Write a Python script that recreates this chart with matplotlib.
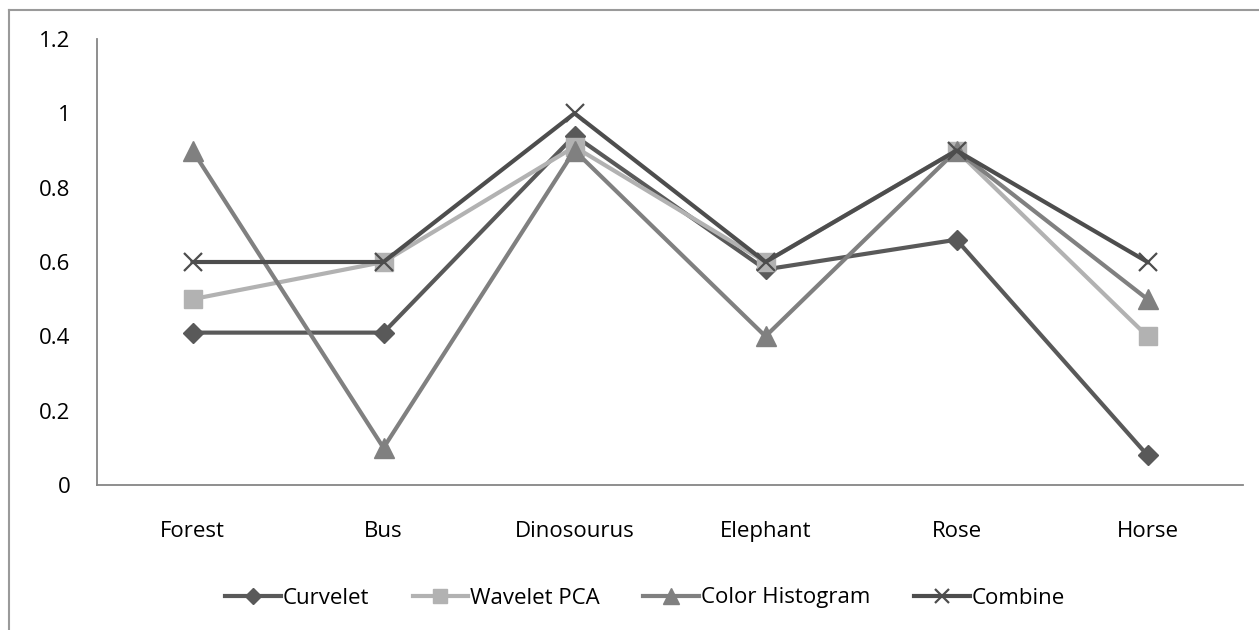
import matplotlib
matplotlib.use("Agg")
import matplotlib.pyplot as plt
from matplotlib.lines import Line2D

categories = ["Forest", "Bus", "Dinosourus", "Elephant", "Rose", "Horse"]
curvelet = [0.41, 0.41, 0.94, 0.58, 0.66, 0.08]
wavelet_pca = [0.50, 0.60, 0.91, 0.60, 0.90, 0.40]
color_hist = [0.90, 0.10, 0.90, 0.40, 0.90, 0.50]
combine = [0.60, 0.60, 1.00, 0.60, 0.90, 0.60]
yticks = [0, 0.2, 0.4, 0.6, 0.8, 1, 1.2]
ytick_labels = ["0", "0.2", "0.4", "0.6", "0.8", "1", "1.2"]

plt.rcParams['font.family'] = ['Open Sans', 'DejaVu Sans']

W, H = 1259, 630
fig = plt.figure(figsize=(W / 100, H / 100), dpi=100)
ax = fig.add_axes([97 / W, 1 - 485 / H, (1243 - 97) / W, (485 - 39) / H])

x = list(range(len(categories)))
lw = 3.0
fs = 16
ax.plot(x, curvelet, color="#595959", lw=lw, marker="D", ms=10, label="Curvelet", zorder=3)
ax.plot(x, wavelet_pca, color="#b2b2b2", lw=lw, marker="s", ms=13, label="Wavelet PCA", zorder=3)
ax.plot(x, color_hist, color="#808080", lw=lw, marker="^", ms=14, label="Color Histogram", zorder=3)
ax.plot(x, combine, color="#4d4d4d", lw=lw, marker="x", ms=13, mew=1.6, label="Combine", zorder=3)

ax.set_xlim(-0.5, len(categories) - 0.5)
ax.set_ylim(0, 1.2)
ax.set_xticks(x)
ax.set_xticklabels(categories)
ax.set_yticks(yticks)
ax.set_yticklabels(ytick_labels)
ax.tick_params(axis="both", length=0, labelsize=fs, colors="black")
ax.tick_params(axis="y", pad=19)
ax.tick_params(axis="x", pad=26)
for s in ["top", "right"]:
    ax.spines[s].set_visible(False)
for s in ["left", "bottom"]:
    ax.spines[s].set_color("#868686")
    ax.spines[s].set_linewidth(1.3)

leg = fig.legend(loc="center", bbox_to_anchor=(645 / W, 1 - 598 / H), ncol=4,
                 frameon=False, fontsize=fs, handlelength=2.5, handletextpad=0.1,
                 columnspacing=1.95, markerscale=0.8)

# outer chart border
fig.add_artist(Line2D([8.5 / W, 8.5 / W], [0, 1 - 9.5 / H], transform=fig.transFigure,
                      color="#9a9a9a", lw=1.5))
fig.add_artist(Line2D([8.5 / W, 1], [1 - 9.5 / H, 1 - 9.5 / H], transform=fig.transFigure,
                      color="#9a9a9a", lw=1.5))

fig.savefig("out.png", dpi=100)
